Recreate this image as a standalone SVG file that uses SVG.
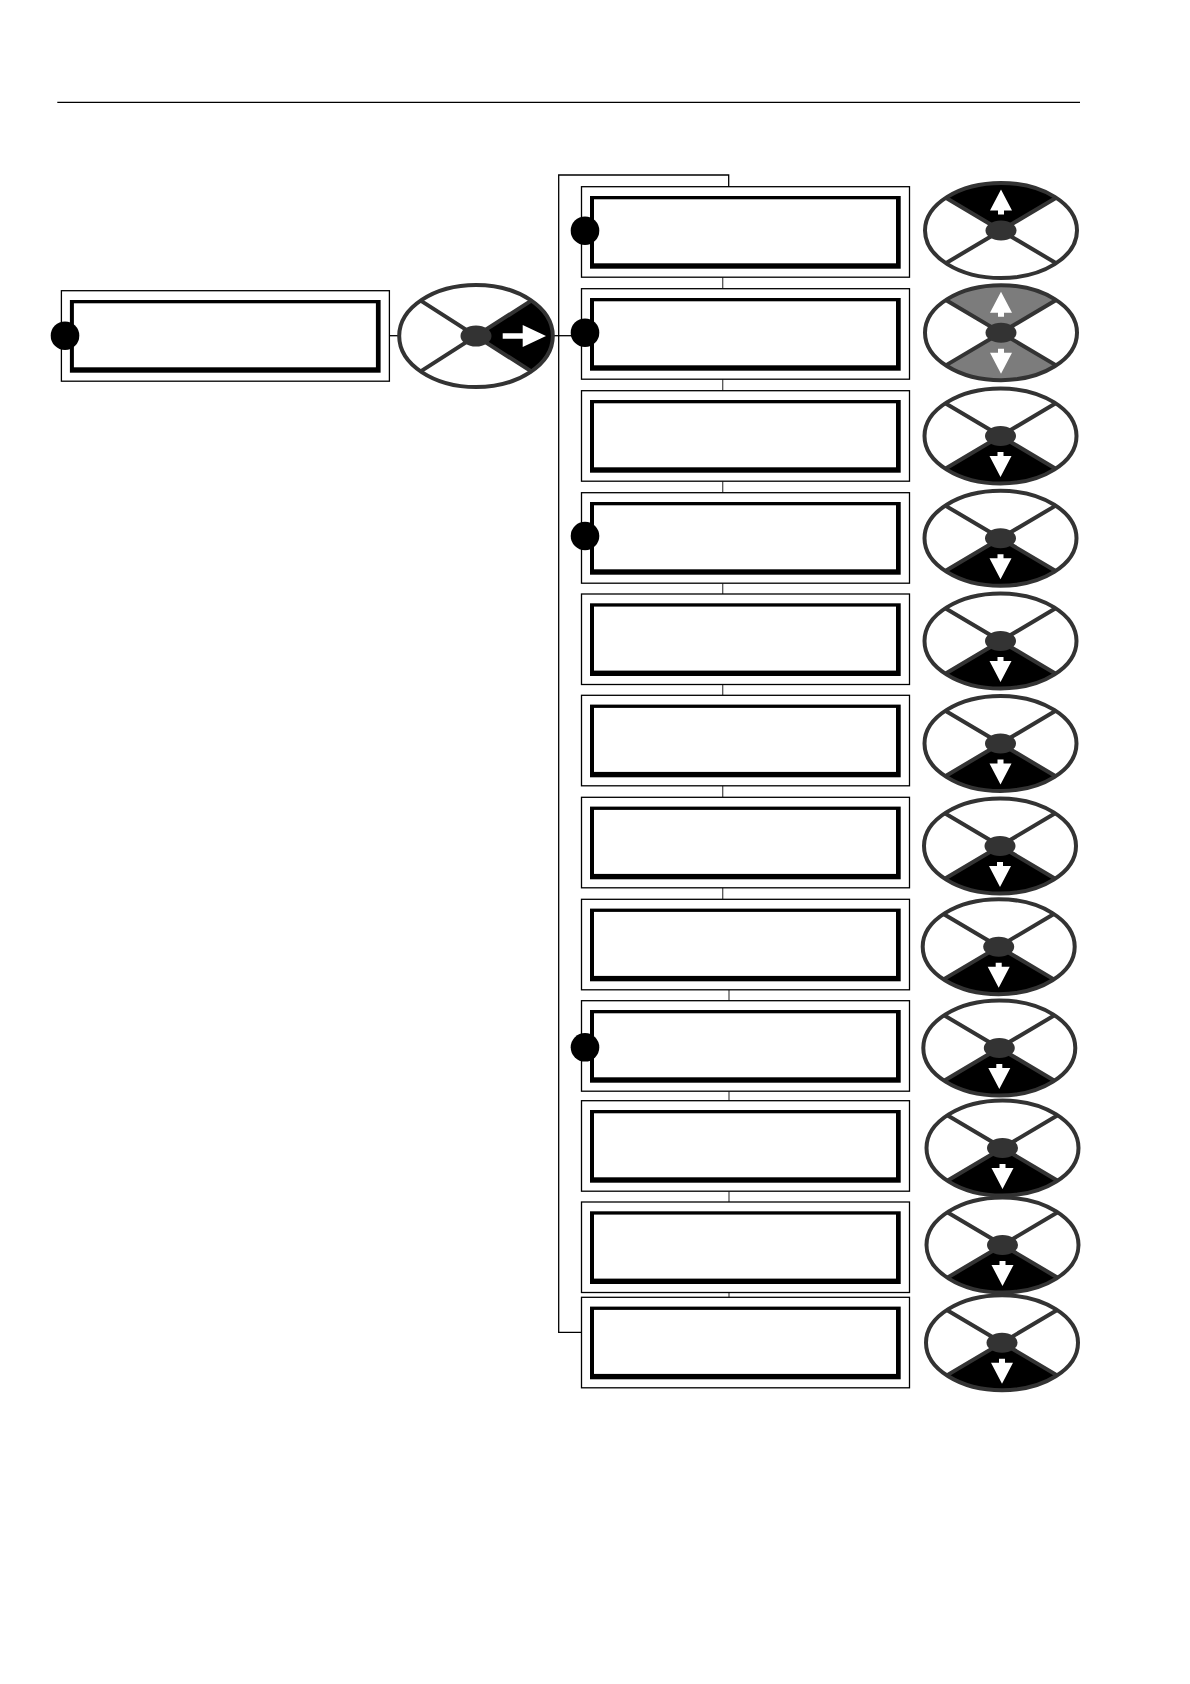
<svg xmlns="http://www.w3.org/2000/svg" xmlns:xlink="http://www.w3.org/1999/xlink" width="1190" height="1684" viewBox="0 0 1190 1684">
<style>
.outer{fill:#fff;stroke:#000;stroke-width:1.3}
.lcdb{fill:#000}
.lcdw{fill:#fff}
.dot{fill:#000}
.conn{fill:none;stroke:#000;stroke-width:1.3}
.link{fill:none;stroke:#555;stroke-width:1.3}
.kfill{fill:#fff}
.kline{fill:none;stroke:#333;stroke-width:4}
.hub{fill:#333}
.blk{fill:#000}
.gry{fill:#7c7c7c}
.arr{fill:#fff}
</style>
<defs>
<g id="lcd">
<rect class="outer" x="0" y="0" width="328" height="90.5"/>
<rect class="lcdb" x="8.5" y="9.3" width="310.7" height="72.7"/>
<rect class="lcdw" x="12.5" y="12.6" width="302" height="64"/>
</g>
<path id="secTop" d="M0,0 L-55.2,-32.7 A76,47.5 0 0 1 55.2,-32.7 Z"/>
<path id="secBot" d="M0,0 L55.2,32.7 A76,47.5 0 0 1 -55.2,32.7 Z"/>
<g id="spokes">
<path class="kline" d="M-55.2,-32.7 L55.2,32.7 M55.2,-32.7 L-55.2,32.7"/>
<ellipse class="kline" cx="0" cy="0" rx="76" ry="47.5"/>
<ellipse class="hub" cx="0" cy="0" rx="15.5" ry="10"/>
</g>
<polygon id="arrDown" class="arr" points="-3,16 3,16 3,20 11,20 0,41 -11,20 -3,20"/>
<polygon id="arrUp" class="arr" points="-3,-16 3,-16 3,-20 11,-20 0,-41 -11,-20 -3,-20"/>
<g id="knobDown">
<ellipse class="kfill" cx="0" cy="0" rx="76" ry="47.5"/>
<use href="#secBot" class="blk"/>
<use href="#spokes"/>
<use href="#arrDown"/>
</g>
</defs>

<line x1="57.3" y1="102.3" x2="1080" y2="102.3" stroke="#000" stroke-width="1.3"/>

<g id="connectors">
<path class="conn" d="M728.7,186.7 V175 H558.7 V1332.3 H581.5"/>
<path class="link" d="M722.7,277.2 V288.7 M722.7,379.2 V390.7 M722.7,481.2 V492.7 M722.7,583.2 V594 M722.7,684.5 V695.3 M722.7,785.8 V797.3 M722.7,887.8 V899.3 M729,989.8 V1000.7 M729,1091.2 V1100.7 M729,1191.2 V1202 M729,1292.5 V1297.3"/>
<line class="conn" x1="389.3" y1="335.7" x2="399" y2="335.7"/>
<line class="conn" x1="553" y1="335.7" x2="585" y2="335.7" stroke-width="1.6"/>
</g>

<g id="box0" transform="translate(61.4,290.7)"><use href="#lcd"/></g>
<circle id="dot0" class="dot" cx="65" cy="335.7" r="14.3"/>

<g id="knob0" transform="translate(476,336)">
<ellipse class="kfill" cx="0" cy="0" rx="76.8" ry="51"/>
<path class="blk" d="M0,0 L55.3,-35.4 A76.8,51 0 0 1 55.3,35.4 Z"/>
<path class="kline" d="M-55.3,-35.4 L55.3,35.4 M55.3,-35.4 L-55.3,35.4"/>
<ellipse class="kline" cx="0" cy="0" rx="76.8" ry="51"/>
<ellipse class="hub" cx="0" cy="0" rx="15.5" ry="10.5"/>
<polygon class="arr" points="26.7,-2.7 46.7,-2.7 46.7,-11 70,0 46.7,11 46.7,2.7 26.7,2.7"/>
</g>

<g id="box1" transform="translate(581.5,186.7)"><use href="#lcd"/></g>
<g id="box2" transform="translate(581.5,288.7)"><use href="#lcd"/></g>
<g id="box3" transform="translate(581.5,390.7)"><use href="#lcd"/></g>
<g id="box4" transform="translate(581.5,492.7)"><use href="#lcd"/></g>
<g id="box5" transform="translate(581.5,594)"><use href="#lcd"/></g>
<g id="box6" transform="translate(581.5,695.3)"><use href="#lcd"/></g>
<g id="box7" transform="translate(581.5,797.3)"><use href="#lcd"/></g>
<g id="box8" transform="translate(581.5,899.3)"><use href="#lcd"/></g>
<g id="box9" transform="translate(581.5,1000.7)"><use href="#lcd"/></g>
<g id="box10" transform="translate(581.5,1100.7)"><use href="#lcd"/></g>
<g id="box11" transform="translate(581.5,1202)"><use href="#lcd"/></g>
<g id="box12" transform="translate(581.5,1297.3)"><use href="#lcd"/></g>

<g id="dots">
<circle class="dot" cx="585" cy="230.7" r="14.3"/>
<circle class="dot" cx="585" cy="332.7" r="14.3"/>
<circle class="dot" cx="585" cy="536" r="14.3"/>
<circle class="dot" cx="585" cy="1047.3" r="14.3"/>
</g>

<g id="knob1" transform="translate(1001,230.5)">
<ellipse class="kfill" cx="0" cy="0" rx="76" ry="47.5"/>
<use href="#secTop" class="blk"/>
<use href="#spokes"/>
<use href="#arrUp"/>
</g>
<g id="knob2" transform="translate(1001,332.7)">
<ellipse class="kfill" cx="0" cy="0" rx="76" ry="47.5"/>
<use href="#secTop" class="gry"/>
<use href="#secBot" class="gry"/>
<use href="#spokes"/>
<use href="#arrUp"/>
<use href="#arrDown"/>
</g>
<g id="knob3" transform="translate(1000.5,436)"><use href="#knobDown"/></g>
<g id="knob4" transform="translate(1000.5,538.3)"><use href="#knobDown"/></g>
<g id="knob5" transform="translate(1000.5,641)"><use href="#knobDown"/></g>
<g id="knob6" transform="translate(1000.5,743.5)"><use href="#knobDown"/></g>
<g id="knob7" transform="translate(1000,846)"><use href="#knobDown"/></g>
<g id="knob8" transform="translate(998.7,946.7)"><use href="#knobDown"/></g>
<g id="knob9" transform="translate(999.3,1048)"><use href="#knobDown"/></g>
<g id="knob10" transform="translate(1002.5,1148)"><use href="#knobDown"/></g>
<g id="knob11" transform="translate(1002.5,1245)"><use href="#knobDown"/></g>
<g id="knob12" transform="translate(1002,1342.7)"><use href="#knobDown"/></g>
</svg>
